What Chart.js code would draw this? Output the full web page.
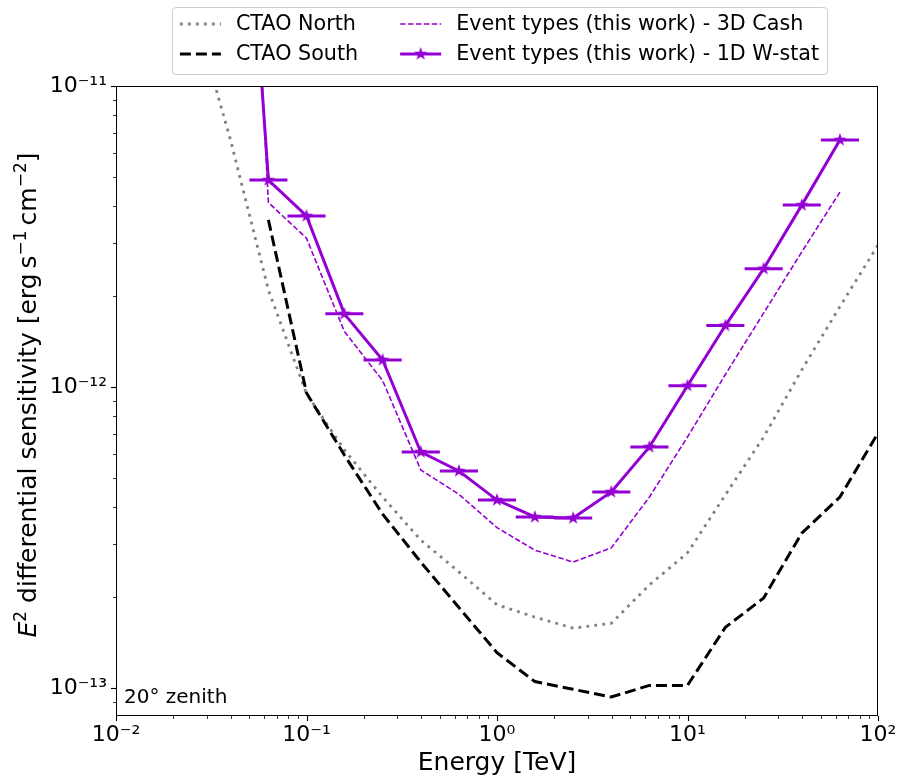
<!DOCTYPE html>
<html>
<head>
<meta charset="utf-8">
<script src="https://cdn.jsdelivr.net/npm/chart.js@4.4.1/dist/chart.umd.min.js"></script>
<style>
  html, body { margin: 0; padding: 0; background: #fff; }
  #wrap { width: 897px; height: 778px; position: relative; }
</style>
</head>
<body>
<div id="wrap"><canvas id="sensChart"></canvas></div>
<script>
// energy bins [TeV] used by the event-type analysis
const binEnergy = [0.0398, 0.0631, 0.1, 0.158, 0.251, 0.398, 0.631, 1.0, 1.58, 2.51, 3.98, 6.31, 10, 15.8, 25.1, 39.8, 63.1];
// E^2 sensitivity [erg s-1 cm-2]
const wstatSens = [3.3e-10, 4.87e-12, 3.70e-12, 1.75e-12, 1.23e-12, 6.08e-13, 5.26e-13, 4.21e-13, 3.70e-13, 3.67e-13, 4.48e-13, 6.32e-13, 1.01e-12, 1.60e-12, 2.47e-12, 4.02e-12, 6.62e-12];
const cashSens = [1.1e-9, 4.10e-12, 3.12e-12, 1.53e-12, 1.05e-12, 5.30e-13, 4.40e-13, 3.41e-13, 2.87e-13, 2.62e-13, 2.92e-13, 4.31e-13, 6.82e-13, 1.10e-12, 1.76e-12, 2.81e-12, 4.44e-12];

const northEnergy = [0.0251, 0.0398, 0.0631, 0.1, 0.158, 0.251, 0.398, 0.631, 1.0, 1.58, 2.51, 3.98, 6.31, 10, 15.8, 25.1, 39.8, 63.1, 100];
const northSens = [1.85e-11, 6.67e-12, 2.10e-12, 9.5e-13, 6.18e-13, 4.31e-13, 3.10e-13, 2.43e-13, 1.89e-13, 1.72e-13, 1.58e-13, 1.64e-13, 2.20e-13, 2.81e-13, 4.38e-13, 6.82e-13, 1.14e-12, 1.85e-12, 2.96e-12];

const southEnergy = [0.0631, 0.1, 0.158, 0.251, 0.398, 0.631, 1.0, 1.58, 2.51, 3.98, 6.31, 10, 15.8, 25.1, 39.8, 63.1, 100];
const southSens = [3.59e-12, 9.55e-13, 5.94e-13, 3.78e-13, 2.62e-13, 1.85e-13, 1.31e-13, 1.05e-13, 9.9e-14, 9.33e-14, 1.02e-13, 1.02e-13, 1.59e-13, 1.99e-13, 3.27e-13, 4.31e-13, 7.03e-13];

const xTickVals = [0.01, 0.1, 1, 10, 100];
const xTickLabels = ['10⁻²', '10⁻¹', '10⁰', '10¹', '10²'];
const yTickVals = [1e-13, 1e-12, 1e-11];
const yTickLabels = ['10⁻¹³', '10⁻¹²', '10⁻¹¹'];

const seriesNames = ['CTAO North', 'CTAO South', 'Event types (this work) - 3D Cash', 'Event types (this work) - 1D W-stat'];

const violet = '#9400d3';
const FONT = '"DejaVu Sans", sans-serif';
const xMin = 0.01, xMax = 100, yMin = 8.07e-14, yMax = 1e-11;

Chart.defaults.font.family = FONT;
Chart.defaults.color = '#000';

function toPoints(xs, ys) {
    return xs.map((x, i) => ({ x: x, y: ys[i] }));
}

// filled five point star, like the matplotlib '*' marker
function makeStar(r) {
    const s = Math.ceil(r * 2 + 2);
    const c = document.createElement('canvas');
    c.width = s; c.height = s;
    const g = c.getContext('2d');
    g.translate(s / 2, s / 2);
    g.beginPath();
    for (let i = 0; i < 10; i++) {
        const rad = i % 2 ? r * 0.4 : r;
        const a = -Math.PI / 2 + i * Math.PI / 5;
        g.lineTo(rad * Math.cos(a), rad * Math.sin(a));
    }
    g.closePath();
    g.fillStyle = violet;
    g.fill();
    return c;
}
const starImg = makeStar(7);

// horizontal error bars (half a bin each side) for the W-stat points
const errorBarPlugin = {
    id: 'errorBars',
    beforeDatasetsDraw(chart) {
        const { ctx, chartArea, scales } = chart;
        ctx.save();
        ctx.beginPath();
        ctx.rect(chartArea.left, chartArea.top, chartArea.right - chartArea.left, chartArea.bottom - chartArea.top);
        ctx.clip();
        ctx.strokeStyle = violet;
        ctx.lineWidth = 3;
        binEnergy.forEach((e, i) => {
            const y = scales.y.getPixelForValue(wstatSens[i]);
            const x0 = scales.x.getPixelForValue(e / Math.pow(10, 0.1));
            const x1 = scales.x.getPixelForValue(e * Math.pow(10, 0.1));
            ctx.beginPath();
            ctx.moveTo(x0, y);
            ctx.lineTo(x1, y);
            ctx.stroke();
        });
        ctx.restore();
    }
};

function drawYTitle(ctx, cx, cy) {
    const parts = [
        { t: 'E', f: 'italic 25px ' + FONT, dy: 0 },
        { t: '2', f: '17px ' + FONT, dy: -10 },
        { t: ' differential sensitivity [erg\u2009s', f: '25px ' + FONT, dy: 0 },
        { t: '−1', f: '17px ' + FONT, dy: -10 },
        { t: '\u2009cm', f: '25px ' + FONT, dy: 0 },
        { t: '−2', f: '17px ' + FONT, dy: -10 },
        { t: ']', f: '25px ' + FONT, dy: 0 }
    ];
    ctx.save();
    ctx.translate(cx, cy);
    ctx.rotate(-Math.PI / 2);
    ctx.textBaseline = 'alphabetic';
    ctx.textAlign = 'left';
    let total = 0;
    parts.forEach(p => { ctx.font = p.f; p.w = ctx.measureText(p.t).width; total += p.w; });
    let x = -total / 2;
    parts.forEach(p => { ctx.font = p.f; ctx.fillText(p.t, x, p.dy); x += p.w; });
    ctx.restore();
}

function drawLegend(ctx) {
    const fs = 20.7;
    ctx.save();
    ctx.font = fs + 'px ' + FONT;
    const handleLen = 41, pad = 15, colGap = 42;
    const w1 = Math.max(ctx.measureText(seriesNames[0]).width, ctx.measureText(seriesNames[1]).width);
    const w2 = Math.max(ctx.measureText(seriesNames[2]).width, ctx.measureText(seriesNames[3]).width);
    const inner = handleLen + pad + w1 + colGap + handleLen + pad + w2;
    const boxW = inner + 16;
    const cx = 499.5;
    const bx = cx - boxW / 2, by = 7, bh = 67;
    ctx.fillStyle = 'rgba(255,255,255,0.8)';
    ctx.strokeStyle = '#cccccc';
    ctx.lineWidth = 1;
    ctx.beginPath();
    ctx.roundRect(bx + 0.5, by + 0.5, boxW, bh, 4);
    ctx.fill();
    ctx.stroke();

    const rows = [24, 54];
    const col1 = bx + 8, col2 = col1 + handleLen + pad + w1 + colGap;
    const handles = [
        { x: col1, y: rows[0], color: '#808080', w: 2.8, dash: [2.8, 5.2] },
        { x: col1, y: rows[1], color: '#000', w: 3, dash: [11, 5] },
        { x: col2, y: rows[0], color: violet, w: 1.6, dash: [5.5, 2.4] },
        { x: col2, y: rows[1], color: violet, w: 3, dash: [] }
    ];
    handles.forEach((h, i) => {
        ctx.strokeStyle = h.color;
        ctx.lineWidth = h.w;
        ctx.setLineDash(h.dash);
        ctx.beginPath();
        ctx.moveTo(h.x, h.y);
        ctx.lineTo(h.x + handleLen, h.y);
        ctx.stroke();
        ctx.setLineDash([]);
        if (i === 3) {
            ctx.drawImage(starImg, h.x + handleLen / 2 - starImg.width / 2, h.y - starImg.height / 2);
        }
        ctx.fillStyle = '#000';
        ctx.textBaseline = 'middle';
        ctx.textAlign = 'left';
        ctx.fillText(seriesNames[i], h.x + handleLen + pad, h.y + 1);
    });
    ctx.restore();
}

// frame, log tick marks, titles, annotation and legend
const decorPlugin = {
    id: 'decor',
    afterDraw(chart) {
        const { ctx, chartArea: a, scales } = chart;
        ctx.save();
        ctx.strokeStyle = '#000';
        ctx.lineWidth = 1;
        ctx.strokeRect(a.left + 0.5, a.top + 0.5, a.right - a.left - 1, a.bottom - a.top - 1);

        // x ticks
        for (let d = -2; d <= 2; d++) {
            for (let k = 1; k <= 9; k++) {
                const v = k * Math.pow(10, d);
                if (v < xMin * 0.999 || v > xMax * 1.001) continue;
                const px = Math.round(scales.x.getPixelForValue(v)) + 0.5;
                const len = k === 1 ? 5 : 3;
                ctx.lineWidth = k === 1 ? 1.1 : 0.8;
                ctx.beginPath();
                ctx.moveTo(px, a.bottom);
                ctx.lineTo(px, a.bottom + len);
                ctx.stroke();
            }
        }
        // y ticks
        for (let d = -14; d <= -11; d++) {
            for (let k = 1; k <= 9; k++) {
                const v = k * Math.pow(10, d);
                if (v < yMin * 0.999 || v > yMax * 1.001) continue;
                const py = Math.round(scales.y.getPixelForValue(v)) + 0.5;
                const len = k === 1 ? 5 : 3;
                ctx.lineWidth = k === 1 ? 1.1 : 0.8;
                ctx.beginPath();
                ctx.moveTo(a.left, py);
                ctx.lineTo(a.left - len, py);
                ctx.stroke();
            }
        }

        ctx.fillStyle = '#000';
        ctx.font = '25px ' + FONT;
        ctx.textAlign = 'center';
        ctx.textBaseline = 'alphabetic';
        ctx.fillText('Energy [TeV]', (a.left + a.right) / 2, 770);

        drawYTitle(ctx, 36, (a.top + a.bottom) / 2 - 6);

        ctx.font = '20px ' + FONT;
        ctx.textAlign = 'left';
        ctx.fillText('20° zenith', 124, 703);

        ctx.restore();
        drawLegend(ctx);
    }
};

const ctx = document.getElementById('sensChart').getContext('2d');
const sensChart = new Chart(ctx, {
    type: 'line',
    data: {
        datasets: [
            {
                label: seriesNames[3],
                data: toPoints(binEnergy, wstatSens),
                borderColor: violet,
                backgroundColor: violet,
                borderWidth: 3,
                pointStyle: starImg,
                pointRadius: 7,
                fill: false
            },
            {
                label: seriesNames[2],
                data: toPoints(binEnergy, cashSens),
                borderColor: violet,
                borderWidth: 1.6,
                borderDash: [5.5, 2.4],
                pointRadius: 0,
                fill: false
            },
            {
                label: seriesNames[1],
                data: toPoints(southEnergy, southSens),
                borderColor: '#000',
                borderWidth: 3,
                borderDash: [11, 5],
                pointRadius: 0,
                fill: false
            },
            {
                label: seriesNames[0],
                data: toPoints(northEnergy, northSens),
                borderColor: '#808080',
                borderWidth: 2.8,
                borderDash: [2.8, 5.2],
                pointRadius: 0,
                fill: false
            }
        ]
    },
    options: {
        responsive: true,
        maintainAspectRatio: false,
        animation: false,
        events: [],
        layout: { padding: { left: 0, right: 19, top: 86, bottom: 0 } },
        plugins: {
            legend: { display: false },
            tooltip: { enabled: false }
        },
        scales: {
            x: {
                type: 'logarithmic',
                min: xMin,
                max: xMax,
                grid: { display: false, drawTicks: false },
                border: { display: false },
                ticks: {
                    font: { size: 22 },
                    color: '#000',
                    padding: 6,
                    maxRotation: 0,
                    autoSkip: false,
                    callback: (v) => {
                        const i = xTickVals.findIndex(t => Math.abs(t - v) / t < 1e-6);
                        return i >= 0 ? xTickLabels[i] : '';
                    }
                },
                afterBuildTicks: (axis) => { axis.ticks = xTickVals.map(v => ({ value: v })); },
                afterFit: (axis) => { axis.height = 62; axis.paddingLeft = 0; axis.paddingRight = 0; }
            },
            y: {
                type: 'logarithmic',
                min: yMin,
                max: yMax,
                grid: { display: false, drawTicks: false },
                border: { display: false },
                ticks: {
                    font: { size: 22 },
                    color: '#000',
                    padding: 9,
                    autoSkip: false,
                    callback: (v) => {
                        const i = yTickVals.findIndex(t => Math.abs(t - v) / t < 1e-6);
                        return i >= 0 ? yTickLabels[i] : '';
                    }
                },
                afterBuildTicks: (axis) => { axis.ticks = yTickVals.map(v => ({ value: v })); },
                afterFit: (axis) => { axis.width = 116; axis.paddingTop = 0; axis.paddingBottom = 0; }
            }
        }
    },
    plugins: [errorBarPlugin, decorPlugin]
});
</script>
</body>
</html>
